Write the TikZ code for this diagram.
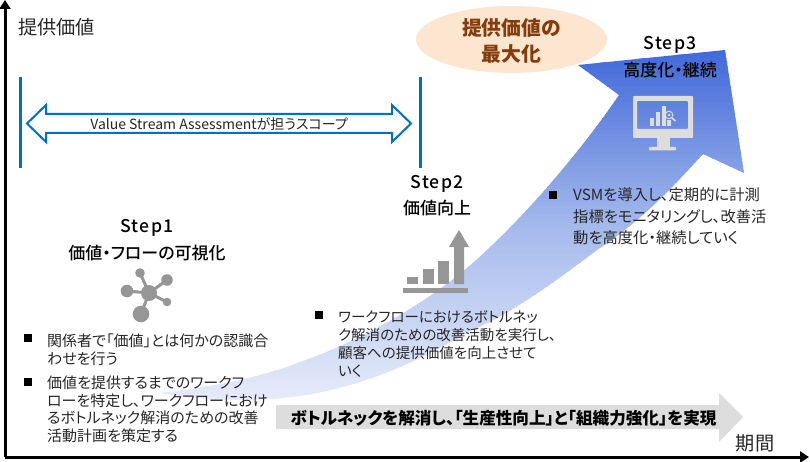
\documentclass[tikz,border=0pt]{standalone}
\usepackage{fontspec}
\setmainfont{Noto Sans CJK JP}[RawFeature={+palt}]
\newfontfamily\stepfont{Noto Sans CJK JP Medium}[LetterSpace=7]
\newfontfamily\medfont{Noto Sans CJK JP Medium}[RawFeature={+palt}]
\definecolor{axisblue}{HTML}{0070C0}
\definecolor{peach}{HTML}{FDE6CF}
\definecolor{brownt}{HTML}{843C0C}
\definecolor{txt}{HTML}{262626}
\definecolor{icon}{HTML}{969696}
\definecolor{lightg}{HTML}{DDDDDD}
\definecolor{gradtop}{HTML}{4169D9}
\definecolor{gradmid}{HTML}{A5BAEC}
\definecolor{gradbot}{HTML}{E7ECFA}
\newcommand{\fs}[2]{\fontsize{#1}{#2}\selectfont}
\tikzset{
 axisline/.style={draw=black,line width=3pt,-{Stealth[length=9pt,width=11pt,inset=0pt]}},
 scopebar/.style={draw=axisblue,line width=3pt},
 body/.style={anchor=north west,inner sep=0pt,align=left,text=txt,font=\fs{15}{17.8}},
 bullet/.style={fill=black,inner sep=0pt,minimum size=7.5pt},
 steptitle/.style={inner sep=0pt,text=black,font=\fs{17.6}{20}\stepfont},
 stepname/.style={inner sep=0pt,text=black,font=\fs{17}{20}\medfont},
 axislabel/.style={inner sep=0pt,text=txt,font=\fs{19.2}{22}},
}
\usetikzlibrary{arrows.meta,shapes.geometric}
\begin{document}
\begin{tikzpicture}[x=1pt,y=-1pt]
\useasboundingbox (0,0) rectangle (810,462);
% growth arrow
\begin{scope}
\clip
  (160,393) .. controls (210,387) and (260,378) .. (300,362)
  .. controls (350,345) and (430,305) .. (487,250)
  .. controls (535,205) and (585,145) .. (619,95)
  -- (578,65) -- (725,50) -- (744,173) -- (703,154)
  .. controls (670,190) and (640,222) .. (597,250)
  .. controls (560,278) and (510,315) .. (470,331)
  .. controls (420,360) and (370,385) .. (300,396)
  .. controls (250,403) and (200,400) .. (160,393) -- cycle;
\foreach \i in {0,...,88}{
  \pgfmathsetmacro{\yy}{50+4*\i}
  \pgfmathsetmacro{\pa}{min(100,max(0,(\yy-50)/175*100))}
  \pgfmathsetmacro{\pb}{min(100,max(0,(\yy-225)/175*100))}
  \ifdim\yy pt<225pt
    \fill[gradmid!\pa!gradtop] (150,\yy) rectangle (750,\yy+5);
  \else
    \fill[gradbot!\pb!gradmid] (150,\yy) rectangle (750,\yy+5);
  \fi
}
\end{scope}
% axes
\coordinate (org) at (5,457);
\coordinate (ytip) at (5,0);
\coordinate (xtip) at (809,457);
\draw[axisline] (org) -- (ytip);
\draw[axisline] (org) -- (xtip);
\node[axislabel] (ylab) at (56.5,27) {提供価値};
\node[axislabel] (xlab) at (755,443) {期間};
% scope
\coordinate (sl1) at (20,77); \coordinate (sl2) at (20,168);
\coordinate (sr1) at (420,77); \coordinate (sr2) at (420,168);
\draw[scopebar] (sl1) -- (sl2);
\draw[scopebar] (sr1) -- (sr2);
\draw[draw=axisblue,line width=2pt,fill=white,line join=miter]
  (27,123.5) -- (46,105) -- (46,114) -- (392,114) -- (392,105) -- (411,123.5)
  -- (392,142) -- (392,133) -- (46,133) -- (46,142) -- cycle;
\node[inner sep=0pt,text=txt,font=\fs{14}{15}] (scope) at (219,124) {Value Stream Assessmentが担うスコープ};
% ellipse
\node[ellipse,fill=peach,minimum width=191pt,minimum height=67pt,inner sep=0pt] (goal) at (511.5,39.5) {};
\node[inner sep=0pt,align=center,text=brownt,font=\fs{19.8}{25.5}\bfseries] (goalt) at (511.5,41) {提供価値の\\最大化};
% step labels
\node[steptitle] (s1) at (147,228) {Step1};
\node[stepname] (s1n) at (147,253) {価値・フローの可視化};
\node[steptitle] (s2) at (437,184) {Step2};
\node[stepname] (s2n) at (437,208) {価値向上};
\node[steptitle] (s3) at (670,45) {Step3};
\node[stepname] (s3n) at (670,70) {高度化・継続};
% network icon
\foreach \nx/\ny/\nr in {140/273/4.8,167/280/5.8,127/291/6.3,167/302/4.3,141/314/8.3}{
  \draw[icon,line width=3pt] (149,293) -- (\nx,\ny);
  \fill[icon] (\nx,\ny) circle (\nr);
}
\fill[icon] (149,293) circle (8);
% bars icon
\fill[icon] (403,288) rectangle (468,293);
\fill[icon] (407,277) rectangle (418,284);
\fill[icon] (423,269) rectangle (434,284);
\fill[icon] (438,261) rectangle (449,284);
\fill[icon] (454,284) -- (454,247) -- (449,247) -- (459,230) -- (469,247) -- (464,247) -- (464,284) -- cycle;
% monitor icon
\fill[lightg,even odd rule,rounded corners=0.8pt] (633,96) rectangle (693,138) (637,101) rectangle (688,129);
\fill[lightg] (657,138) rectangle (670,147);
\fill[lightg,rounded corners=1pt] (649,147) rectangle (676,150.5);
\fill[lightg] (650,118) rectangle (654,126);
\fill[lightg] (656,112) rectangle (660,126);
\fill[lightg] (662,106) rectangle (666,126);
\fill[lightg] (667,120) rectangle (671,126);
\draw[lightg,line width=1pt] (669,115) circle (3.8);
\fill[lightg] (669,115) circle (1.5);
\draw[lightg,line width=1.6pt] (672,118) -- (675.5,121);
% body text
\node[bullet] (b1) at (28,338) {};
\node[body] (t1) at (47,334) {関係者で「価値」とは何かの認識合\\わせを行う};
\node[bullet] (b2) at (28,382) {};
\node[body] (t2) at (47,375.5) {価値を提供するまでのワークフ\\ローを特定し、ワークフローにおけ\\るボトルネック解消のための改善\\活動計画を策定する};
\node[bullet] (b3) at (319,315) {};
\node[body,font=\fs{14.5}{18}] (t3) at (338,310) {ワークフローにおけるボトルネッ\\ク解消のための改善活動を実行し、\\顧客への提供価値を向上させて\\いく};
\node[bullet] (b4) at (553,195) {};
\node[body,font=\fs{15.3}{21.5}] (t4) at (573,187.5) {VSMを導入し、定期的に計測\\指標をモニタリングし、改善活\\動を高度化・継続していく};
% bottom arrow
\fill[lightg] (276,405) -- (719,405) -- (719,393) -- (743,417) -- (719,442) -- (719,429) -- (276,429) -- cycle;
\node[inner sep=0pt,text=black,font=\fs{16.6}{20}\bfseries] (bott) at (503.5,418) {ボトルネックを解消し、「生産性向上」と「組織力強化」を実現};
\end{tikzpicture}
\end{document}
